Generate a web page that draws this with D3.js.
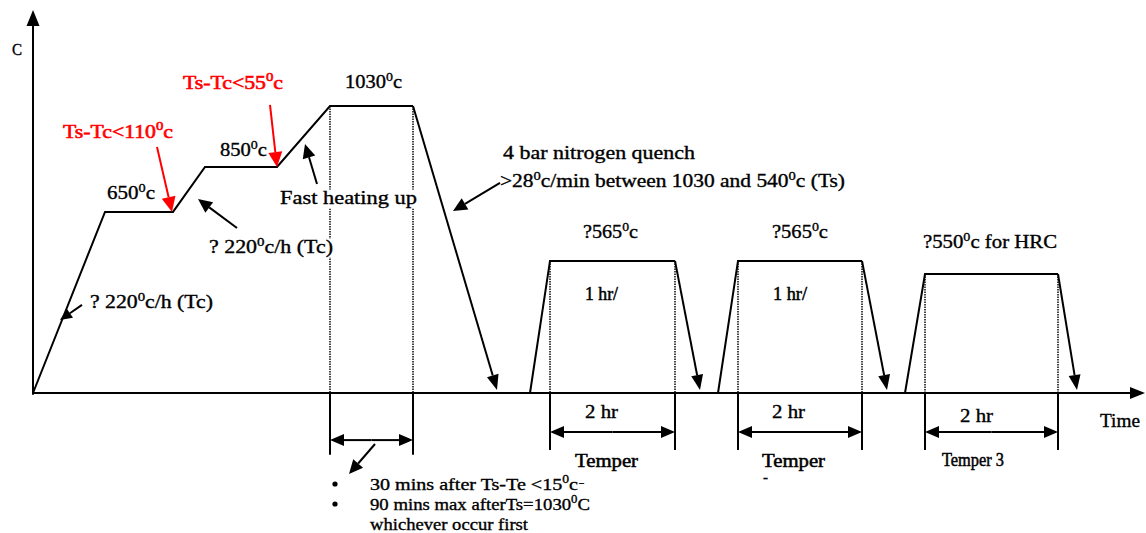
<!DOCTYPE html>
<html><head><meta charset="utf-8">
<script src="https://cdn.jsdelivr.net/npm/d3@7"></script>
<style>body{margin:0;background:#fff}svg{display:block}</style>
</head><body>
<svg id="c" width="1146" height="533"></svg>
<script>
// ---- data (time units, drawn temperature level) ----
const hardenTime  = [0, 72, 140, 172, 244, 297, 380];
const hardenLevel = [0, 650, 650, 811, 811, 1030, 1030];
const quenchEnd   = [464, 11];
const temperStart = [497, 685, 872];
const temperRise  = [517, 705, 892];
const temperFall  = [642, 829, 1025];
const temperEnd   = [667, 854, 1044];
const temperLevel = [474, 474, 427];
const temperTemps = ["?565^0c", "?565^0c", "?550^0c for HRC"];
const temperNames = ["Temper", "Temper", "Temper 3"];
const holdMarks   = [297, 380];

const svg = d3.select("#c");
const x = d3.scaleLinear().domain([0, 1110]).range([33, 1143]);
const y = d3.scaleLinear().domain([0, 1030]).range([393, 106]);
const FONT = "Liberation Serif";

function arrow(g, x1, y1, x2, y2, color, hl = 14, hw = 11, sw = 2) {
  const dx = x2 - x1, dy = y2 - y1, L = Math.hypot(dx, dy);
  const ux = dx / L, uy = dy / L;
  const bx = x2 - ux * hl, by = y2 - uy * hl;
  g.append("line").attr("x1", x1).attr("y1", y1).attr("x2", bx).attr("y2", by)
    .attr("stroke", color).attr("stroke-width", sw);
  g.append("path").attr("d", `M${x2},${y2}L${bx - uy * hw / 2},${by + ux * hw / 2}L${bx + uy * hw / 2},${by - ux * hw / 2}Z`)
    .attr("fill", color);
}
function dArrow(t1, t2, lv) {
  const y0 = y(lv), a = x(t1), b = x(t2), m = (a + b) / 2;
  arrow(svg, m, y0, a, y0, "#000", 14, 12, 2);
  arrow(svg, m, y0, b, y0, "#000", 14, 12, 2);
}
function label(str, px, py, len, opts = {}) {
  const size = opts.size || 18;
  const col = opts.color || "#000";
  if (opts.halo) {
    svg.append("rect").attr("x", px - 2).attr("y", py - size * 0.8).attr("width", len + 4)
      .attr("height", size * 1.05).attr("fill", "#fff");
  }
  const t = svg.append("text").attr("x", px).attr("y", py)
    .attr("font-family", FONT).attr("font-size", size)
    .attr("fill", col).attr("stroke", col).attr("stroke-width", opts.sw || 0.35);
  const parts = str.split("^0");
  parts.forEach((p, i) => {
    if (i > 0) {
      t.append("tspan").attr("dy", -size * 0.4).attr("font-size", size * 0.68).text("0");
      t.append("tspan").attr("dy", size * 0.4).text(p);
    } else if (p.length) t.append("tspan").text(p);
  });
  if (len) t.attr("textLength", len).attr("lengthAdjust", "spacingAndGlyphs");
  return t;
}

// ---- dotted guide lines ----
const dotted = (t, lv) => svg.append("line").attr("x1", x(t)).attr("x2", x(t))
  .attr("y1", y(lv)).attr("y2", y(0)).attr("stroke", "#444").attr("stroke-width", 2)
  .attr("stroke-dasharray", "1.5,1");
holdMarks.forEach(t => dotted(t, 1030));
temperRise.forEach((t, i) => dotted(t, temperLevel[i]));
temperFall.forEach((t, i) => dotted(t, temperLevel[i]));

// ---- axes ----
arrow(svg, x(0), y(-6), x(0), 10, "#000", 16, 13, 2);
arrow(svg, x(0), y(0), 1145, y(0), "#000", 15, 12, 2);

// ---- profile ----
const line = d3.line().x(d => x(d[0])).y(d => y(d[1]));
const hp = hardenTime.map((t, i) => [t, hardenLevel[i]]);
svg.append("path").attr("d", line(hp)).attr("fill", "none").attr("stroke", "#000").attr("stroke-width", 2);
arrow(svg, x(380), y(1030), x(quenchEnd[0]), y(quenchEnd[1]), "#000", 15, 12, 2);

temperStart.forEach((t, i) => {
  const pts = [[t, 0], [temperRise[i], temperLevel[i]], [temperFall[i], temperLevel[i]]];
  svg.append("path").attr("d", line(pts)).attr("fill", "none").attr("stroke", "#000").attr("stroke-width", 2);
  arrow(svg, x(temperFall[i]), y(temperLevel[i]), x(temperEnd[i]), y(11), "#000", 15, 12, 2);
});

// ---- dimension marks below axis ----
const tick = (t, lv) => svg.append("line").attr("x1", x(t)).attr("x2", x(t))
  .attr("y1", y(0)).attr("y2", y(lv)).attr("stroke", "#000").attr("stroke-width", 2);
holdMarks.forEach(t => tick(t, -222));
dArrow(holdMarks[0], holdMarks[1], -169);
temperRise.forEach((t, i) => {
  tick(t, -205); tick(temperFall[i], -205);
  dArrow(t, temperFall[i], -140);
});

// ---- annotation arrows ----
arrow(svg, x(124), y(883), x(139), y(650), "#f00", 15, 14, 2);
arrow(svg, x(237), y(1034), x(244), y(811), "#f00", 15, 14, 2);
arrow(svg, x(204), y(592), x(165), y(696), "#000", 14, 13, 2);
arrow(svg, x(284), y(750), x(272), y(894), "#000", 14, 13, 2);
arrow(svg, x(49), y(316), x(27), y(262), "#000", 12, 11, 2);
arrow(svg, x(467), y(754), x(420), y(653), "#000", 14, 13, 2);
arrow(svg, x(342), y(-183), x(316), y(-291), "#000", 14, 13, 2);

// ---- labels ----
label("C", 12, 55, 10, {size: 16});
label("Ts-Tc<110^0c", 63, 138, 110, {color: "#f00", size: 19, sw: 0.6});
label("Ts-Tc<55^0c", 183, 89, 100, {color: "#f00", size: 19, sw: 0.6});
label("650^0c", 107, 199, 48);
label("850^0c", 220, 156, 47);
label("1030^0c", 345, 88, 57);
label("Fast heating up", 280, 204, 137, {halo: true});
label("? 220^0c/h (Tc)", 209, 253, 124, {halo: true});
label("? 220^0c/h (Tc)", 90, 308, 123);
label("4 bar nitrogen quench", 503, 159, 192);
label(">28^0c/min between 1030 and 540^0c (Ts)", 500, 187, 345);
const tt = [[583, 238, 55], [772, 238, 56], [923, 248, 134]];
temperTemps.forEach((s, i) => label(s, tt[i][0], tt[i][1], tt[i][2]));
label("1 hr/", 585, 300, 33, {sw: 0.5});
label("1 hr/", 773, 300, 34, {sw: 0.5});
const hr = [[585, 418], [772, 418], [960, 422]];
hr.forEach(h => label("2 hr", h[0], h[1], 33));
const tn = [[575, 467, 63], [762, 467, 63], [942, 466, 62]];
temperNames.forEach((s, i) => label(s, tn[i][0], tn[i][1], tn[i][2], {sw: 0.5}));
label("-", 763, 482, 5, {size: 14});
label("Time", 1100, 427, 40);

svg.append("circle").attr("cx", 335).attr("cy", 484).attr("r", 2.6).attr("fill", "#000");
svg.append("circle").attr("cx", 335).attr("cy", 504).attr("r", 2.6).attr("fill", "#000");
label("30 mins after Ts-Te <15^0c", 370, 490, 208, {size: 17});
label("ˉ", 579, 492, 5, {size: 14});
label("90 mins max afterTs=1030^0C", 370, 510, 220, {size: 17});
label("whichever occur first", 370, 530, 158, {size: 17});
</script>
</body></html>
